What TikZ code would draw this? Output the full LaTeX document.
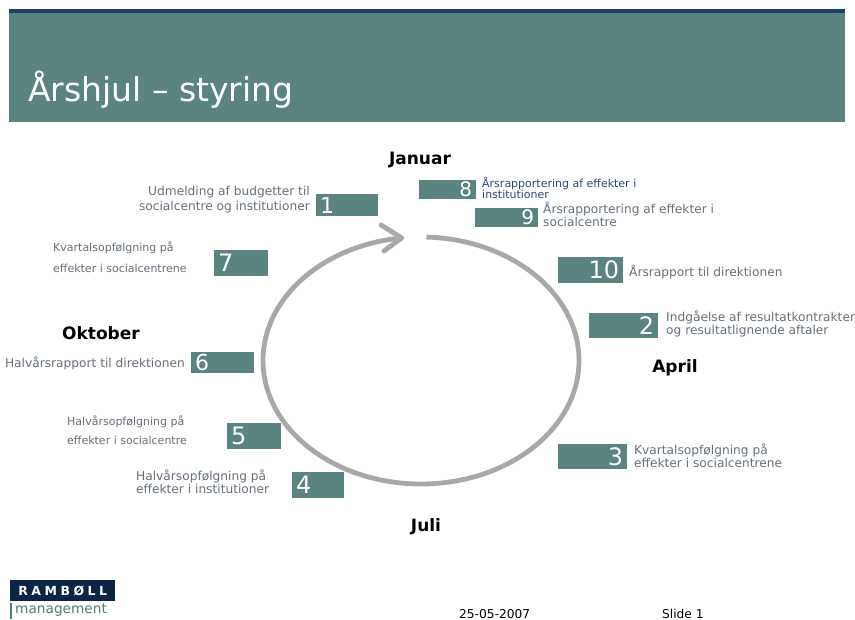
\documentclass[tikz,border=0pt]{standalone}
\usepackage{fontspec}
\setmainfont{DejaVu Sans}
\definecolor{tealbox}{HTML}{5A8480}
\definecolor{topblue}{HTML}{1C3F6E}
\definecolor{labgray}{HTML}{66707A}
\definecolor{labblue}{HTML}{2B4A7A}
\definecolor{arcgray}{HTML}{A8A8A8}
\definecolor{logonavy}{HTML}{0C2544}
\definecolor{mgmt}{HTML}{4F7E7A}
\newcommand\fsz[2]{\fontsize{#1}{#2}\selectfont}
\begin{document}
\begin{tikzpicture}[x=1pt,y=-1pt,
  numbox/.style={rectangle, fill=tealbox, inner sep=0pt, anchor=north west},
  numL/.style={anchor=west, text=white, inner sep=0pt, xshift=4pt},
  numR/.style={anchor=east, text=white, inner sep=0pt, xshift=-4pt},
  lab/.style={text=labgray, inner sep=0pt, font=\fsz{12.2}{13}},
  labsmall/.style={text=labgray, inner sep=0pt, font=\fsz{11}{21}},
  month/.style={text=black, inner sep=0pt, font=\fsz{17}{20}\bfseries},
  wheel/.style={draw=arcgray, line width=4.8pt},
  foot/.style={text=black, inner sep=0pt, font=\fsz{12.2}{14}, anchor=west}]
\useasboundingbox (0,0) rectangle (855,620);
\fill[white] (0,0) rectangle (855,620);

% title bar
\fill[topblue] (9,9) rectangle (845,13);
\fill[tealbox] (9,13) rectangle (845,122);
\node[anchor=base west, text=white, inner sep=0pt, font=\fsz{33}{36}] (title) at (28,102) {Årshjul – styring};

% wheel
\coordinate (ac) at (421,360.5);
\draw[wheel] ([shift={(-88:158 and 123.5)}]ac) arc[start angle=-88, end angle=263, x radius=158, y radius=123.5];
\coordinate (tip) at (401.7,237.9);
\coordinate (barbA) at (381,225);
\coordinate (barbB) at (384,251);
\draw[wheel, line cap=round, line join=round] (barbA) -- (tip) -- (barbB);

% months
\node[month] (jan) at (420,160) {Januar};
\node[month] (okt) at (101,333) {Oktober};
\node[month] (apr) at (675,368) {April};
\node[month] (jul) at (426,527) {Juli};

% boxes, left side
\node[numbox, minimum width=62pt, minimum height=22pt] (b1) at (316,194) {};
\node[numL, font=\fsz{22}{22}] (n1) at (b1.west) {1};
\node[lab, anchor=east, align=right, font=\fsz{12.2}{15}] (t1) at (310,200) {Udmelding af budgetter til\\socialcentre og institutioner};

\node[numbox, minimum width=54pt, minimum height=26pt] (b7) at (214,250) {};
\node[numL, font=\fsz{24}{24}] (n7) at (b7.west) {7};
\node[labsmall, anchor=west, align=left] (t7) at (53,257) {Kvartalsopfølgning på\\effekter i socialcentrene};

\node[numbox, minimum width=63pt, minimum height=21pt] (b6) at (191,352) {};
\node[numL, font=\fsz{22}{22}] (n6) at (b6.west) {6};
\node[lab, anchor=east] (t6) at (185,363) {Halvårsrapport til direktionen};

\node[numbox, minimum width=54pt, minimum height=26pt] (b5) at (227,423) {};
\node[numL, font=\fsz{24}{24}] (n5) at (b5.west) {5};
\node[labsmall, anchor=west, align=left, font=\fsz{11}{19}] (t5) at (67,430) {Halvårsopfølgning på\\effekter i socialcentre};

\node[numbox, minimum width=52pt, minimum height=26pt] (b4) at (292,472) {};
\node[numL, font=\fsz{24}{24}] (n4) at (b4.west) {4};
\node[lab, anchor=west, align=left] (t4) at (136,482) {Halvårsopfølgning på\\effekter i institutioner};

% boxes, right side
\node[numbox, minimum width=57pt, minimum height=19pt] (b8) at (419,180) {};
\node[numR, font=\fsz{20}{20}] (n8) at (b8.east) {8};
\node[anchor=west, align=left, text=labblue, inner sep=0pt, font=\fsz{11}{11.5}] (t8) at (482,188) {Årsrapportering af effekter i\\institutioner};

\node[numbox, minimum width=63pt, minimum height=19pt] (b9) at (475,208) {};
\node[numR, font=\fsz{20}{20}] (n9) at (b9.east) {9};
\node[lab, anchor=west, align=left] (t9) at (543,214) {Årsrapportering af effekter i\\socialcentre};

\node[numbox, minimum width=65pt, minimum height=26pt] (b10) at (558,257) {};
\node[numR, font=\fsz{24}{24}] (n10) at (b10.east) {10};
\node[lab, anchor=west] (t10) at (629,272) {Årsrapport til direktionen};

\node[numbox, minimum width=69pt, minimum height=25pt] (b2) at (589,313) {};
\node[numR, font=\fsz{24}{24}] (n2) at (b2.east) {2};
\node[lab, anchor=west, align=left] (t2) at (666,323.5) {Indgåelse af resultatkontrakter\\og resultatlignende aftaler};

\node[numbox, minimum width=69pt, minimum height=25pt] (b3) at (558,444) {};
\node[numR, font=\fsz{24}{24}] (n3) at (b3.east) {3};
\node[lab, anchor=west, align=left] (t3) at (634,455.5) {Kvartalsopfølgning på\\effekter i socialcentrene};

% footer
\node[rectangle, fill=logonavy, inner sep=0pt, minimum width=105pt, minimum height=21pt, anchor=north west] (logo) at (10,580) {};
\node[text=white, inner sep=0pt, font=\fsz{12.5}{13}\bfseries\addfontfeatures{LetterSpace=28}] (logotxt) at (logo.center) {RAMBØLL};
\fill[mgmt] (9.8,603) rectangle (11.6,619);
\node[anchor=west, text=mgmt, inner sep=0pt, font=\fsz{13.7}{15}] (mg) at (15,610) {management};
\node[foot] (date) at (459,614) {25-05-2007};
\node[foot] (slide) at (662,614) {Slide 1};
\end{tikzpicture}
\end{document}
